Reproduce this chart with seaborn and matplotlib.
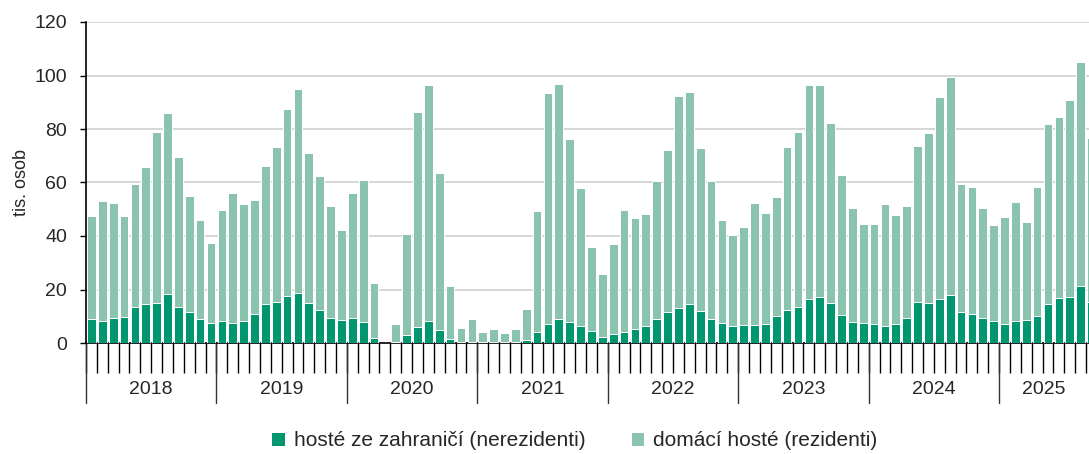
import numpy as np
import pandas as pd
import matplotlib
matplotlib.use('Agg')
import matplotlib.pyplot as plt
import matplotlib.transforms as mtransforms
from matplotlib.patches import Patch
import seaborn as sns

# roky na ose x
roky = ['2018', '2019', '2020', '2021', '2022', '2023', '2024', '2025']

# hosté ze zahraničí (nerezidenti), tis. osob, leden 2018 - září 2025
nerezidenti = [
    9.0, 8.2, 9.2, 9.9, 13.5, 14.6, 15.0, 18.5, 13.6, 11.5, 8.9, 7.5,
    8.2, 7.5, 8.2, 10.9, 14.6, 15.2, 17.6, 18.7, 15.0, 12.3, 9.4, 8.6,
    9.2, 7.9, 1.9, 0.1, 0.2, 3.0, 6.1, 8.2, 4.9, 1.4, 0.4, 0.5,
    0.3, 0.3, 0.2, 0.3, 1.0, 4.0, 7.1, 8.9, 7.9, 6.2, 4.4, 2.1,
    3.2, 4.0, 5.1, 6.2, 8.9, 11.5, 13.0, 14.5, 11.8, 9.1, 7.5, 6.4,
    6.7, 6.9, 7.1, 10.1, 12.2, 13.5, 16.3, 17.2, 14.8, 10.5, 7.7, 7.5,
    7.1, 6.2, 7.2, 9.4, 15.5, 14.8, 16.3, 17.8, 11.5, 10.7, 9.2, 8.1,
    7.2, 8.1, 8.5, 10.1, 14.5, 16.7, 17.2, 21.2, 15.2,
]

# domácí hosté (rezidenti), tis. osob
rezidenti = [
    38.6, 44.8, 43.2, 37.7, 46.0, 51.3, 63.7, 67.6, 55.8, 43.3, 37.0, 29.7,
    41.7, 48.5, 43.6, 42.5, 51.4, 58.1, 69.8, 76.2, 56.0, 50.2, 42.0, 33.8,
    46.7, 53.1, 20.6, 0.4, 6.8, 37.7, 80.1, 88.2, 58.5, 19.8, 5.3, 8.6,
    3.8, 4.8, 3.7, 4.9, 11.7, 45.4, 86.3, 88.1, 68.3, 51.9, 31.4, 23.6,
    33.8, 45.9, 41.8, 41.9, 51.6, 60.8, 79.3, 79.3, 61.0, 51.5, 38.4, 33.9,
    36.5, 45.5, 41.4, 44.3, 61.0, 65.3, 80.0, 79.1, 67.4, 52.4, 42.6, 37.0,
    37.2, 45.9, 40.8, 41.7, 58.1, 63.7, 75.6, 81.6, 48.1, 47.6, 41.1, 36.1,
    40.0, 44.7, 36.9, 48.4, 67.3, 67.6, 73.7, 83.7, 61.4,
]

mesice = pd.date_range('2018-01-01', periods=len(nerezidenti), freq='MS')
df = pd.DataFrame({
    'mesic': mesice.strftime('%Y-%m'),
    'nerezidenti': nerezidenti,
    'rezidenti': rezidenti,
})
df['celkem'] = df['nerezidenti'] + df['rezidenti']

tmava = '#009670'
svetla = '#8AC3AE'

sns.set_style('white')
plt.rcParams['font.family'] = ['Liberation Sans', 'DejaVu Sans']

fig = plt.figure(figsize=(10.89, 4.54), dpi=100)
ax = fig.add_axes([86 / 1089, 1 - 343 / 454, 1 - 86 / 1089, (343 - 22) / 454])

# skládané sloupce: nejdřív celkem (světlé), přes to nerezidenti (tmavé)
sns.barplot(data=df, x='mesic', y='celkem', color=svetla, saturation=1,
            width=0.8, edgecolor='white', linewidth=0.7, ax=ax, zorder=2)
sns.barplot(data=df, x='mesic', y='nerezidenti', color=tmava, saturation=1,
            width=0.8, edgecolor='white', linewidth=0.7, ax=ax, zorder=3)

n = len(df)
ax.set_ylim(0, 120)
ax.set_yticks(np.arange(0, 121, 20))
ax.grid(axis='y', color='#d0d0d0', linewidth=1.2, zorder=0)
ax.set_axisbelow(True)

for s in ['top', 'right']:
    ax.spines[s].set_visible(False)
for s in ['left', 'bottom']:
    ax.spines[s].set_color('black')
    ax.spines[s].set_linewidth(1.2)

# hranice měsíců jako tick, roky jako delší čáry a popisky
ax.set_xticks(np.arange(n + 1) - 0.5)
ax.set_xticklabels([])
# poslední sloupec (září 2025) je v originále useknutý pravým okrajem
ax.set_xlim(-0.5, -0.5 + (1089 - 86) / 10.87)
ax.tick_params(axis='x', length=21.5, width=1, color='black', bottom=True)
ax.tick_params(axis='y', length=4.5, width=1, color='black', pad=9,
               labelsize=14, left=True)
ax.set_xlabel('')
ax.set_ylabel('tis. osob', fontsize=13, labelpad=3)

trans = mtransforms.blended_transform_factory(ax.transData, ax.transAxes)
for k, rok in enumerate(roky):
    x0 = k * 12 - 0.5
    ax.plot([x0, x0], [0, -60 / 321], transform=trans, color='#333333',
            linewidth=1, clip_on=False)
    ax.text(x0 + 6, -47 / 321, rok, transform=trans, ha='center', va='center',
            fontsize=14, clip_on=False)
# 2025 je useknutý na pravém okraji, popisek uprostřed viditelné části
ax.texts[-1].set_x(7 * 12 - 0.5 + (1089 - 999) / 10.87 / 2)

handles = [Patch(facecolor=tmava, edgecolor='none'),
           Patch(facecolor=svetla, edgecolor='none')]
fig.legend(handles, ['hosté ze zahraničí (nerezidenti)', 'domácí hosté (rezidenti)'],
           loc='center', bbox_to_anchor=(575 / 1089, 1 - 441 / 454), ncol=2,
           frameon=False, fontsize=15, handlelength=0.6, handleheight=0.6,
           handletextpad=0.45, columnspacing=2.2)

fig.savefig('out.png', dpi=100)
